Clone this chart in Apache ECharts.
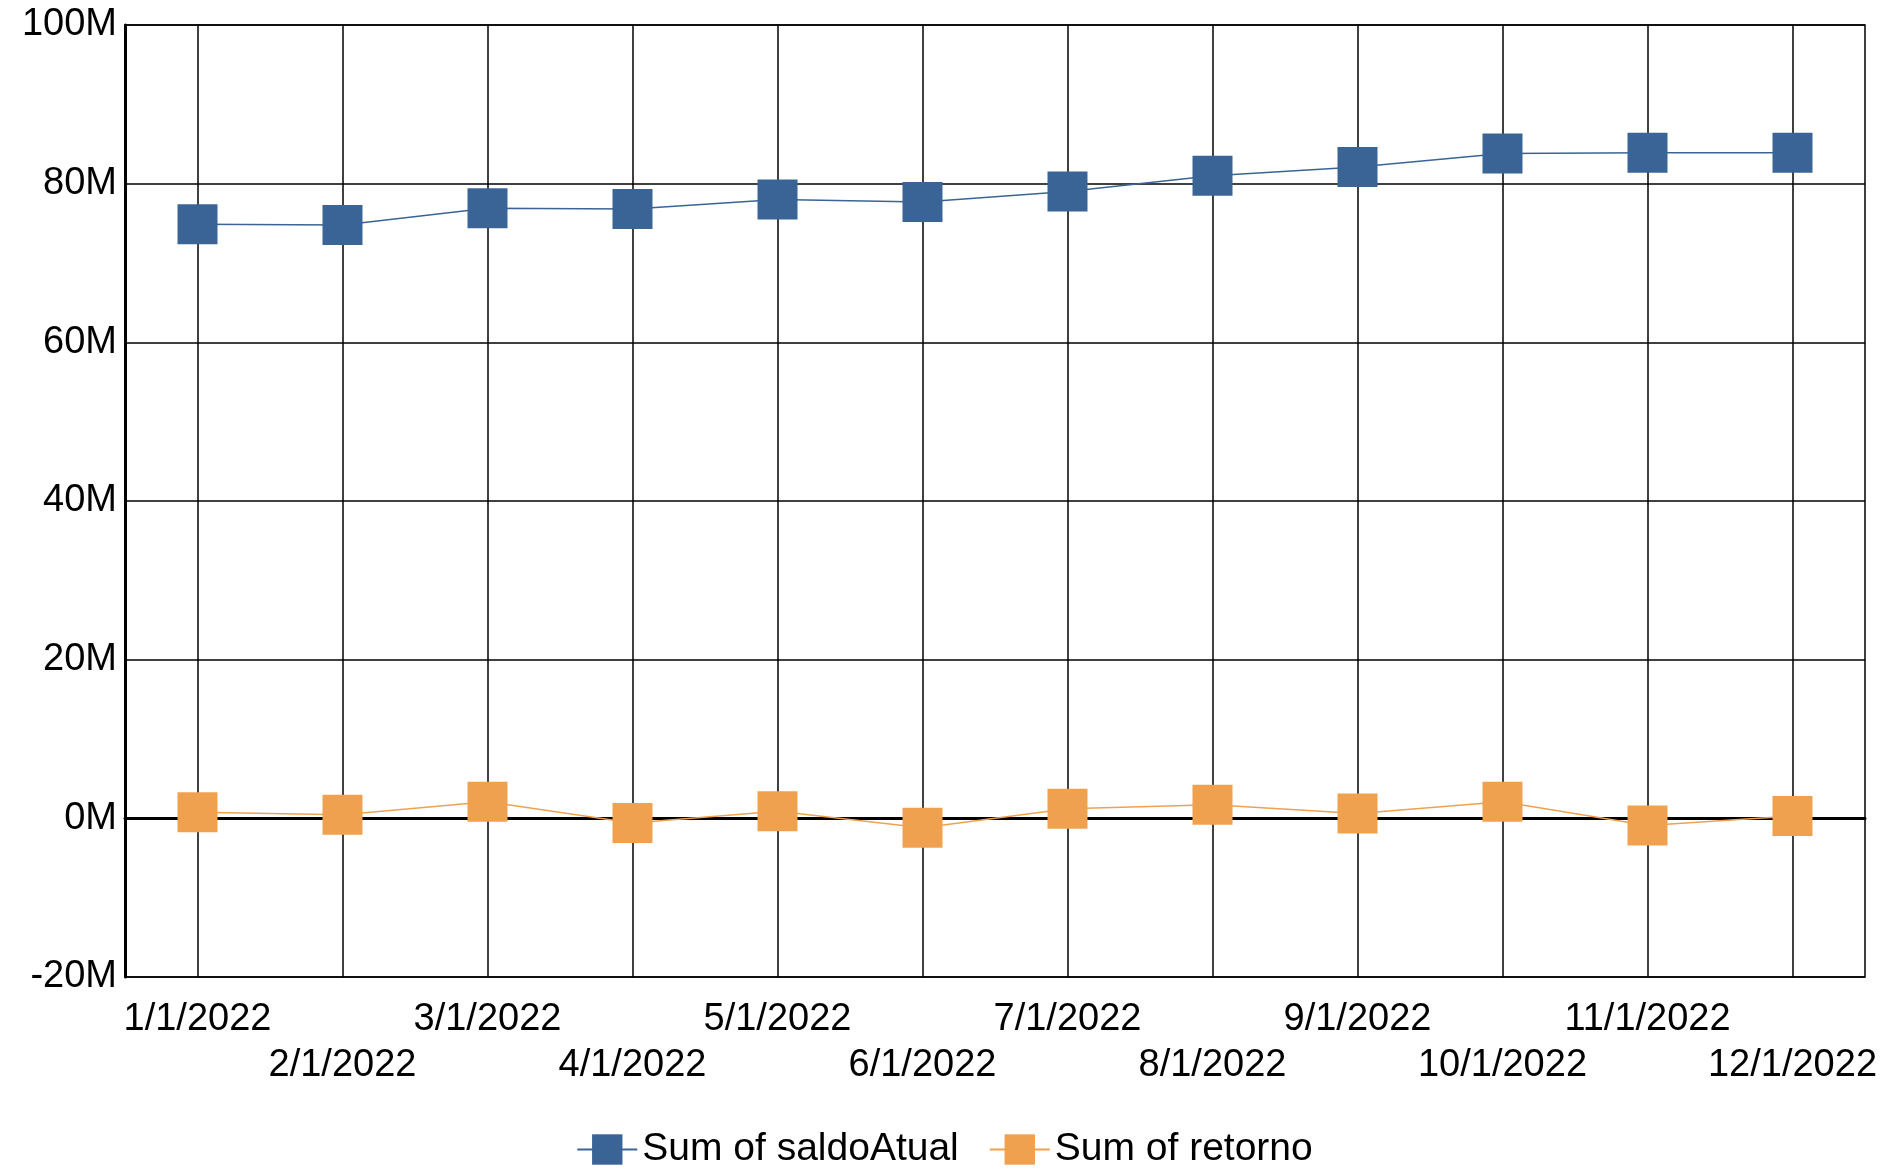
<!DOCTYPE html>
<html>
<head>
<meta charset="utf-8">
<script src="https://cdn.jsdelivr.net/npm/echarts@6/dist/echarts.min.js"></script>
<style>html,body{margin:0;padding:0;background:#fff}#main{width:1889px;height:1174px}</style>
</head>
<body>
<div id="main"></div>
<script>
const categories = ['1/1/2022','2/1/2022','3/1/2022','4/1/2022','5/1/2022','6/1/2022','7/1/2022','8/1/2022','9/1/2022','10/1/2022','11/1/2022','12/1/2022'];
const saldoAtual = [74.9e6, 74.8e6, 76.9e6, 76.8e6, 78.0e6, 77.7e6, 79.0e6, 81.0e6, 82.1e6, 83.8e6, 83.9e6, 83.9e6];
const retorno = [0.76e6, 0.46e6, 2.1e6, -0.6e6, 0.9e6, -1.2e6, 1.2e6, 1.7e6, 0.6e6, 2.1e6, -0.9e6, 0.3e6];
const yTicks = {min: -20e6, max: 100e6, interval: 20e6};

const font = 'Liberation Sans, Arial, sans-serif';
let chart = echarts.init(document.getElementById('main'));
chart.setOption({
    animation: false,
    grid: {left: 125, right: 24, top: 25, bottom: 197, show: true, borderColor: '#000', borderWidth: 1.5},
    legend: {
        bottom: 0, left: 'center', itemWidth: 60, itemHeight: 38, itemGap: 30,
        textStyle: {fontSize: 39, fontFamily: font, color: '#000'},
        data: ['Sum of saldoAtual', 'Sum of retorno']
    },
    xAxis: {
        type: 'category', data: categories,
        axisLine: {lineStyle: {color: '#000', width: 3}},
        axisTick: {inside: true, length: 14, lineStyle: {color: '#000', width: 1.5}},
        axisLabel: {
            interval: 0, fontSize: 38, fontFamily: font, color: '#000', margin: 20, lineHeight: 46,
            formatter: function (v, i) { return i % 2 ? '\n' + v : v; }
        },
        splitLine: {show: false}
    },
    yAxis: {
        type: 'value', min: yTicks.min, max: yTicks.max, interval: yTicks.interval,
        axisLine: {show: true, lineStyle: {color: '#000', width: 3}},
        axisTick: {show: false},
        axisLabel: {fontSize: 38, fontFamily: font, color: '#000', margin: 8,
            formatter: function (v) { return (v / 1e6) + 'M'; }},
        splitLine: {lineStyle: {color: '#000', width: 1.5}}
    },
    series: [
        {
            name: 'Sum of saldoAtual', type: 'line', data: saldoAtual,
            symbol: 'rect', symbolSize: 40, z: 5,
            itemStyle: {color: '#3b6496'}, lineStyle: {color: '#3b6496', width: 1.5},
            markLine: {
                silent: true, symbol: 'none', label: {show: false},
                lineStyle: {color: '#000', width: 1.5, type: 'solid'},
                data: categories.map(function (c) { return {xAxis: c}; })
            }
        },
        {
            name: 'Sum of retorno', type: 'line', data: retorno,
            symbol: 'rect', symbolSize: 40, z: 5,
            itemStyle: {color: '#f0a150'}, lineStyle: {color: '#f0a150', width: 1.5},
            markLine: {
                silent: true, symbol: 'none', label: {show: false},
                lineStyle: {color: '#000', width: 3, type: 'solid'},
                data: [{yAxis: 0}]
            }
        }
    ]
});
</script>
</body>
</html>
